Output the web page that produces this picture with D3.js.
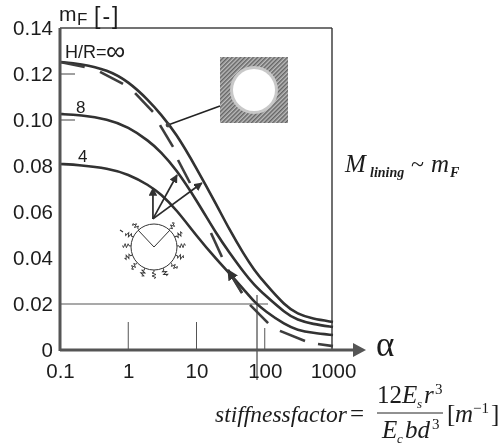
<!DOCTYPE html>
<html>
<head>
<meta charset="utf-8">
<script src="https://cdn.jsdelivr.net/npm/d3@7"></script>
<style>
html, body { margin: 0; padding: 0; background: #fff; }
svg { display: block; }
text { fill: #1c1c1c; }
.sans { font-family: "Liberation Sans", sans-serif; }
.serif { font-family: "Liberation Serif", serif; font-style: italic; }
</style>
</head>
<body>
<div id="chart"></div>
<script>
const alphaTicks = [0.1, 1, 10, 100, 1000];
const mTicks = [0, 0.02, 0.04, 0.06, 0.08, 0.10, 0.12, 0.14];

const alphaValues = [0.1, 0.2, 0.5, 1, 2, 3, 5, 10, 20, 30, 50, 70, 100, 200, 300, 500, 1000];
const curveInf = [0.1252, 0.1245, 0.1218, 0.1168, 0.1085, 0.1025, 0.0943, 0.0791, 0.0627, 0.0526, 0.0413, 0.0348, 0.0291, 0.0191, 0.0157, 0.0135, 0.0122];
const curve8 = [0.1026, 0.1022, 0.1003, 0.097, 0.0909, 0.0862, 0.0787, 0.0652, 0.05, 0.0426, 0.0335, 0.0283, 0.0239, 0.0161, 0.013, 0.0113, 0.01];
const curve4 = [0.0809, 0.0804, 0.079, 0.0765, 0.0717, 0.0678, 0.0613, 0.0496, 0.0391, 0.0335, 0.0261, 0.0209, 0.017, 0.0109, 0.0087, 0.0074, 0.0065];

// the long dashed curve, one entry per dash
const dashes = [
    [[0.1, 0.1252], [0.23, 0.123]],
    [[0.386, 0.1209], [0.838, 0.1157]],
    [[1.26, 0.1117], [2.3, 0.1035]],
    [[2.92, 0.0978], [4.53, 0.0883]],
    [[5.36, 0.0826], [8.03, 0.0726]],
    [[16.3, 0.0509], [23.6, 0.0404]],
    [[29, 0.0348], [46.4, 0.0248]],
    [[60.8, 0.0196], [112, 0.0117]],
    [[167, 0.0083], [389, 0.0039]],
    [[603, 0.0026], [1000, 0.0017]]
];

// arrows from the spring sketch up to the curves
const arrowFrom = [2.3, 0.057];
const arrowTips = [[2.3, 0.0704], [5.18, 0.0761], [12, 0.0726]];

const width = 501, height = 445;
const svg = d3.select('#chart').append('svg').attr('width', width).attr('height', height);

const defs = svg.append('defs');
defs.append('filter').attr('id', 'soft')
    .attr('filterUnits', 'userSpaceOnUse')
    .attr('x', 0).attr('y', 0)
    .attr('width', width).attr('height', height)
    .append('feGaussianBlur').attr('stdDeviation', 0.35);
const hatch = defs.append('pattern').attr('id', 'hatch')
    .attr('width', 3).attr('height', 3)
    .attr('patternUnits', 'userSpaceOnUse')
    .attr('patternTransform', 'rotate(45)');
hatch.append('rect').attr('width', 3).attr('height', 3).attr('fill', '#bcbcbc');
hatch.append('rect').attr('width', 1.5).attr('height', 3).attr('fill', '#646464');
defs.append('marker').attr('id', 'head')
    .attr('viewBox', '0 0 10 10').attr('refX', 9).attr('refY', 5)
    .attr('markerWidth', 5).attr('markerHeight', 5).attr('orient', 'auto')
    .append('path').attr('d', 'M0,0L10,5L0,10Z').attr('fill', '#333');

const root = svg.append('g').attr('filter', 'url(#soft)');

const x = d3.scaleLog().domain([0.1, 1000]).range([60, 333]);
const y = d3.scaleLinear().domain([0, 0.14]).range([350, 28]);

const lineGen = d3.line().x(d => x(d[0])).y(d => y(d[1]));

// frame
root.append('line').attr('x1', x(0.1)).attr('x2', x(1000) - 1).attr('y1', y(0.14)).attr('y2', y(0.14))
    .attr('stroke', '#444').attr('stroke-width', 1.5);
root.append('line').attr('x1', x(1000) - 1).attr('x2', x(1000) - 1).attr('y1', y(0.14)).attr('y2', y(0))
    .attr('stroke', '#333').attr('stroke-width', 1.4);

// short inner ticks
[0.12, 0.10].forEach(v => {
    root.append('line').attr('x1', x(0.1)).attr('x2', x(0.1) + 15).attr('y1', y(v)).attr('y2', y(v))
        .attr('stroke', '#444').attr('stroke-width', 1);
});
[[1, 322], [10, 322], [100, 328]].forEach(t => {
    root.append('line').attr('x1', x(t[0])).attr('x2', x(t[0])).attr('y1', t[1]).attr('y2', y(0))
        .attr('stroke', '#555').attr('stroke-width', 1);
});

// reading lines at m = 0.02
root.append('line').attr('x1', x(0.1)).attr('x2', 268).attr('y1', y(0.02)).attr('y2', y(0.02))
    .attr('stroke', '#555').attr('stroke-width', 1.1);
root.append('line').attr('x1', 257).attr('x2', 257).attr('y1', 295).attr('y2', 380)
    .attr('stroke', '#333').attr('stroke-width', 1.1);

// solid curves
[curveInf, curve8, curve4].forEach(values => {
    root.append('path')
        .datum(values.map((v, i) => [alphaValues[i], v]))
        .attr('fill', 'none').attr('stroke', '#303030').attr('stroke-width', 2.6)
        .attr('d', d3.line().x(d => x(d[0])).y(d => y(d[1])).curve(d3.curveBasis));
});

// dashes
root.selectAll('.dash').data(dashes).enter().append('path')
    .attr('class', 'dash').attr('fill', 'none').attr('stroke', '#3c3c3c').attr('stroke-width', 2.6)
    .attr('d', d => lineGen(d));

// small arrowhead sitting on the dash near alpha 30
root.append('line')
    .attr('x1', x(46.4)).attr('y1', y(0.0248))
    .attr('x2', x(29)).attr('y2', y(0.0348))
    .attr('stroke', '#3c3c3c').attr('stroke-width', 2.2)
    .attr('marker-end', 'url(#head)');

// arrows
arrowTips.forEach(t => {
    root.append('line')
        .attr('x1', x(arrowFrom[0])).attr('y1', y(arrowFrom[1]))
        .attr('x2', x(t[0])).attr('y2', y(t[1]))
        .attr('stroke', '#2a2a2a').attr('stroke-width', 1.7)
        .attr('marker-end', 'url(#head)');
});

// leader from the inset to the top curve
root.append('line').attr('x1', 220).attr('y1', 106).attr('x2', 168).attr('y2', 125)
    .attr('stroke', '#222').attr('stroke-width', 1.5);
root.append('circle').attr('cx', 168).attr('cy', 125).attr('r', 2.4).attr('fill', '#444');

// inset: lining in the ground
const inset = root.append('g');
inset.append('rect').attr('x', 220).attr('y', 57).attr('width', 68).attr('height', 66).attr('fill', 'url(#hatch)');
inset.append('circle').attr('cx', 254).attr('cy', 90).attr('r', 24).attr('fill', '#c8c8c8');
inset.append('circle').attr('cx', 254).attr('cy', 90).attr('r', 21).attr('fill', '#fff');

// spring sketch
const sketch = root.append('g').attr('transform', 'translate(154,247)');
sketch.append('circle').attr('r', 23).attr('fill', 'none').attr('stroke', '#333').attr('stroke-width', 1);
sketch.append('path').attr('d', 'M-16,-17L0,0L16,-17').attr('fill', 'none').attr('stroke', '#333').attr('stroke-width', 1);
const zig = [[0, 23], [0, 25], [-2, 26], [2, 27.5], [-2, 29], [2, 30.5], [0, 31.5]];
d3.range(-139, 140, 23.17).forEach(a => {
    sketch.append('path')
        .attr('transform', `rotate(${a})`)
        .attr('d', d3.line()(zig))
        .attr('fill', 'none').attr('stroke', '#333').attr('stroke-width', 0.9);
});
sketch.append('line').attr('x1', -34).attr('y1', -17).attr('x2', -31).attr('y2', -15)
    .attr('stroke', '#333').attr('stroke-width', 1.2);

// axes
const xAxis = root.append('g').attr('transform', `translate(0,${y(0)})`)
    .call(d3.axisBottom(x).tickValues(alphaTicks).tickSize(0).tickPadding(13).tickFormat(d => String(d)));
const yAxis = root.append('g').attr('transform', `translate(${x(0.1)},0)`)
    .call(d3.axisLeft(y).tickValues(mTicks).tickSize(0).tickPadding(7).tickFormat(d => d === 0 ? '0' : d.toFixed(2)));
[xAxis, yAxis].forEach(a => {
    a.select('.domain').remove();
    a.selectAll('text').attr('class', 'sans').style('font-size', '20.5px').attr('fill', '#1c1c1c');
});

root.append('line').attr('x1', x(0.1)).attr('x2', 356).attr('y1', y(0)).attr('y2', y(0))
    .attr('stroke', '#555').attr('stroke-width', 3);
root.append('line').attr('x1', x(0.1)).attr('x2', x(0.1)).attr('y1', y(0.14)).attr('y2', y(0) + 1)
    .attr('stroke', '#555').attr('stroke-width', 3);
root.append('path').attr('d', 'M353,343L366,350L353,357Z').attr('fill', '#555');

// labels
function label(cls, px, py, size, str, weight) {
    return root.append('text').attr('class', cls).attr('x', px).attr('y', py)
        .style('font-size', size + 'px').style('font-weight', weight || 'normal').text(str);
}
label('sans', 59, 21, 21, 'm');
label('sans', 77, 25, 17, 'F');
label('sans', 94, 24, 23, '[-]').style('letter-spacing', '2px');
label('sans', 65, 58, 18, 'H/R=');
label('sans', 106, 60, 27, '∞');
label('sans', 76, 113, 17, '8');
label('sans', 78, 162, 17, '4');
label('serif', 376, 356, 35, 'α').style('font-style', 'normal');

label('serif', 345, 172, 25, 'M');
label('serif', 370, 177, 14, 'lining', 'bold');
label('serif', 411, 172, 24, '~').style('font-style', 'normal');
label('serif', 431, 172, 25, 'm');
label('serif', 450, 177, 14, 'F', 'bold');

// stiffness formula
label('serif', 215, 422, 23.5, 'stiffnessfactor');
label('serif', 350, 422, 25, '=').style('font-style', 'normal');
label('serif', 377, 403, 25, '12').style('font-style', 'normal');
label('serif', 402, 403, 25, 'E');
label('serif', 417, 408, 13, 's');
label('serif', 424, 403, 25, 'r');
label('serif', 435, 394, 15, '3').style('font-style', 'normal');
root.append('line').attr('x1', 377).attr('x2', 443).attr('y1', 413).attr('y2', 413)
    .attr('stroke', '#222').attr('stroke-width', 1);
label('serif', 382, 438, 25, 'E');
label('serif', 397, 443, 13, 'c');
label('serif', 405, 438, 25, 'bd');
label('serif', 432, 429, 15, '3').style('font-style', 'normal');
label('serif', 447, 422, 25, '[').style('font-style', 'normal');
label('serif', 455, 422, 25, 'm');
label('serif', 473, 413, 15, '−1').style('font-style', 'normal');
label('serif', 491, 422, 25, ']').style('font-style', 'normal');
</script>
</body>
</html>
